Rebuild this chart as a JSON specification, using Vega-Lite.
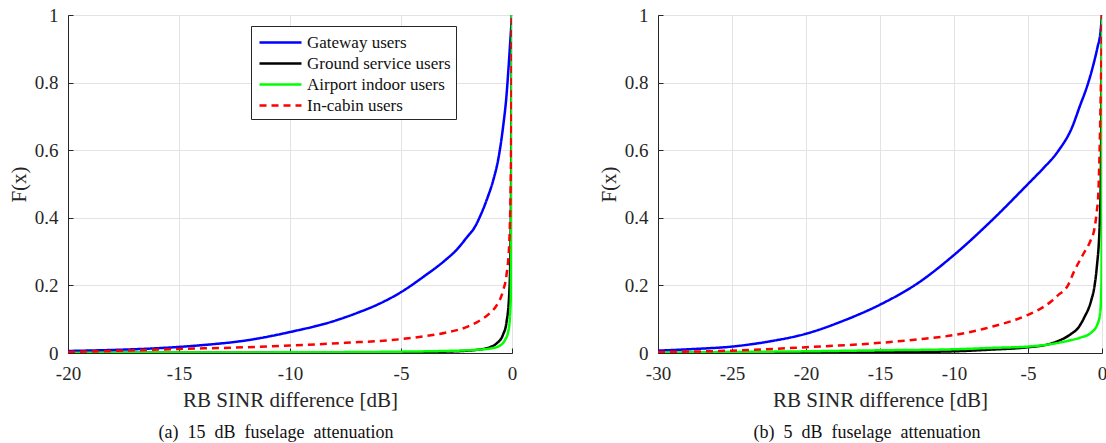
{
  "$schema": "https://vega.github.io/schema/vega-lite/v6.json",
  "background": "white",
  "padding": {"left": 7, "top": 5, "right": 0, "bottom": 0},
  "spacing": 79,
  "config": {
    "font": "'Liberation Serif', serif",
    "view": {"stroke": "#262626", "strokeWidth": 1},
    "axis": {
      "labelFont": "'Liberation Serif', serif", "titleFont": "'Liberation Serif', serif",
      "labelFontSize": 19, "titleFontSize": 21, "titleFontWeight": "normal",
      "labelColor": "#262626", "titleColor": "#262626",
      "domainColor": "#262626", "tickColor": "#262626",
      "gridColor": "#e3e3e3", "gridWidth": 1, "grid": true,
      "labelFlush": false, "labelOverlap": false, "tickSize": -5
    },
    "title": {"font": "'Liberation Serif', serif", "fontSize": 18, "fontWeight": "normal", "color": "#111111"},
    "legend": {
      "labelFont": "'Liberation Serif', serif", "labelFontSize": 17, "labelColor": "#111111"
    }
  },
  "datasets": {
    "a": [
      {"s": "Gateway users", "x": -20, "F": 0.006},
      {"s": "Gateway users", "x": -18, "F": 0.009},
      {"s": "Gateway users", "x": -16, "F": 0.014},
      {"s": "Gateway users", "x": -15, "F": 0.018},
      {"s": "Gateway users", "x": -14, "F": 0.023},
      {"s": "Gateway users", "x": -12, "F": 0.037},
      {"s": "Gateway users", "x": -10, "F": 0.062},
      {"s": "Gateway users", "x": -8, "F": 0.095},
      {"s": "Gateway users", "x": -7, "F": 0.118},
      {"s": "Gateway users", "x": -6, "F": 0.145},
      {"s": "Gateway users", "x": -5, "F": 0.18},
      {"s": "Gateway users", "x": -4, "F": 0.225},
      {"s": "Gateway users", "x": -3, "F": 0.275},
      {"s": "Gateway users", "x": -2.5, "F": 0.305},
      {"s": "Gateway users", "x": -2, "F": 0.345},
      {"s": "Gateway users", "x": -1.7, "F": 0.37},
      {"s": "Gateway users", "x": -1.4, "F": 0.41},
      {"s": "Gateway users", "x": -1.1, "F": 0.46},
      {"s": "Gateway users", "x": -0.85, "F": 0.51},
      {"s": "Gateway users", "x": -0.6, "F": 0.58},
      {"s": "Gateway users", "x": -0.4, "F": 0.67},
      {"s": "Gateway users", "x": -0.25, "F": 0.76},
      {"s": "Gateway users", "x": -0.15, "F": 0.85},
      {"s": "Gateway users", "x": -0.08, "F": 0.92},
      {"s": "Gateway users", "x": -0.03, "F": 0.97},
      {"s": "Gateway users", "x": 0, "F": 1},
      {"s": "Ground service users", "x": -20, "F": 0.0005},
      {"s": "Ground service users", "x": -10, "F": 0.001},
      {"s": "Ground service users", "x": -5, "F": 0.002},
      {"s": "Ground service users", "x": -3, "F": 0.004},
      {"s": "Ground service users", "x": -2, "F": 0.007},
      {"s": "Ground service users", "x": -1.5, "F": 0.01},
      {"s": "Ground service users", "x": -1, "F": 0.017},
      {"s": "Ground service users", "x": -0.7, "F": 0.028},
      {"s": "Ground service users", "x": -0.4, "F": 0.055},
      {"s": "Ground service users", "x": -0.25, "F": 0.09},
      {"s": "Ground service users", "x": -0.12, "F": 0.18},
      {"s": "Ground service users", "x": -0.06, "F": 0.35},
      {"s": "Ground service users", "x": -0.03, "F": 0.6},
      {"s": "Ground service users", "x": -0.01, "F": 0.9},
      {"s": "Ground service users", "x": 0, "F": 1},
      {"s": "Airport indoor users", "x": -20, "F": 0.001},
      {"s": "Airport indoor users", "x": -10, "F": 0.002},
      {"s": "Airport indoor users", "x": -5, "F": 0.004},
      {"s": "Airport indoor users", "x": -3, "F": 0.006},
      {"s": "Airport indoor users", "x": -2, "F": 0.008},
      {"s": "Airport indoor users", "x": -1.5, "F": 0.01},
      {"s": "Airport indoor users", "x": -1, "F": 0.013},
      {"s": "Airport indoor users", "x": -0.6, "F": 0.02},
      {"s": "Airport indoor users", "x": -0.3, "F": 0.04},
      {"s": "Airport indoor users", "x": -0.15, "F": 0.07},
      {"s": "Airport indoor users", "x": -0.06, "F": 0.15},
      {"s": "Airport indoor users", "x": -0.03, "F": 0.4},
      {"s": "Airport indoor users", "x": -0.01, "F": 0.8},
      {"s": "Airport indoor users", "x": 0, "F": 1},
      {"s": "In-cabin users", "x": -20, "F": 0.003},
      {"s": "In-cabin users", "x": -17.5, "F": 0.007},
      {"s": "In-cabin users", "x": -15, "F": 0.012},
      {"s": "In-cabin users", "x": -12.5, "F": 0.016},
      {"s": "In-cabin users", "x": -10, "F": 0.022},
      {"s": "In-cabin users", "x": -7.5, "F": 0.03},
      {"s": "In-cabin users", "x": -5, "F": 0.041},
      {"s": "In-cabin users", "x": -4, "F": 0.049},
      {"s": "In-cabin users", "x": -3, "F": 0.06},
      {"s": "In-cabin users", "x": -2, "F": 0.078},
      {"s": "In-cabin users", "x": -1.5, "F": 0.094},
      {"s": "In-cabin users", "x": -1, "F": 0.118},
      {"s": "In-cabin users", "x": -0.7, "F": 0.14},
      {"s": "In-cabin users", "x": -0.4, "F": 0.185},
      {"s": "In-cabin users", "x": -0.25, "F": 0.23},
      {"s": "In-cabin users", "x": -0.12, "F": 0.33},
      {"s": "In-cabin users", "x": -0.06, "F": 0.5},
      {"s": "In-cabin users", "x": -0.03, "F": 0.7},
      {"s": "In-cabin users", "x": -0.01, "F": 0.9},
      {"s": "In-cabin users", "x": 0, "F": 1}
    ],
    "b": [
      {"s": "Gateway users", "x": -30, "F": 0.007},
      {"s": "Gateway users", "x": -27.5, "F": 0.012},
      {"s": "Gateway users", "x": -25, "F": 0.019},
      {"s": "Gateway users", "x": -22.5, "F": 0.034},
      {"s": "Gateway users", "x": -20, "F": 0.057},
      {"s": "Gateway users", "x": -17.5, "F": 0.095},
      {"s": "Gateway users", "x": -15, "F": 0.143},
      {"s": "Gateway users", "x": -12.5, "F": 0.205},
      {"s": "Gateway users", "x": -10, "F": 0.29},
      {"s": "Gateway users", "x": -7.5, "F": 0.39},
      {"s": "Gateway users", "x": -5, "F": 0.50},
      {"s": "Gateway users", "x": -4, "F": 0.545},
      {"s": "Gateway users", "x": -3, "F": 0.595},
      {"s": "Gateway users", "x": -2, "F": 0.67},
      {"s": "Gateway users", "x": -1.5, "F": 0.73},
      {"s": "Gateway users", "x": -1, "F": 0.79},
      {"s": "Gateway users", "x": -0.6, "F": 0.85},
      {"s": "Gateway users", "x": -0.3, "F": 0.905},
      {"s": "Gateway users", "x": -0.1, "F": 0.95},
      {"s": "Gateway users", "x": 0, "F": 1},
      {"s": "Ground service users", "x": -30, "F": 0.0003},
      {"s": "Ground service users", "x": -20, "F": 0.001},
      {"s": "Ground service users", "x": -15, "F": 0.002},
      {"s": "Ground service users", "x": -10, "F": 0.005},
      {"s": "Ground service users", "x": -7.5, "F": 0.01},
      {"s": "Ground service users", "x": -5, "F": 0.017},
      {"s": "Ground service users", "x": -3.7, "F": 0.025},
      {"s": "Ground service users", "x": -3, "F": 0.035},
      {"s": "Ground service users", "x": -2.1, "F": 0.056},
      {"s": "Ground service users", "x": -1.6, "F": 0.075},
      {"s": "Ground service users", "x": -1.2, "F": 0.105},
      {"s": "Ground service users", "x": -0.74, "F": 0.154},
      {"s": "Ground service users", "x": -0.5, "F": 0.2},
      {"s": "Ground service users", "x": -0.36, "F": 0.25},
      {"s": "Ground service users", "x": -0.14, "F": 0.4},
      {"s": "Ground service users", "x": -0.06, "F": 0.6},
      {"s": "Ground service users", "x": -0.02, "F": 0.85},
      {"s": "Ground service users", "x": 0, "F": 1},
      {"s": "Airport indoor users", "x": -30, "F": 0.001},
      {"s": "Airport indoor users", "x": -25, "F": 0.003},
      {"s": "Airport indoor users", "x": -20, "F": 0.005},
      {"s": "Airport indoor users", "x": -15, "F": 0.008},
      {"s": "Airport indoor users", "x": -10, "F": 0.011},
      {"s": "Airport indoor users", "x": -7.5, "F": 0.015},
      {"s": "Airport indoor users", "x": -5, "F": 0.019},
      {"s": "Airport indoor users", "x": -3.5, "F": 0.026},
      {"s": "Airport indoor users", "x": -2.3, "F": 0.036},
      {"s": "Airport indoor users", "x": -1.5, "F": 0.045},
      {"s": "Airport indoor users", "x": -0.74, "F": 0.06},
      {"s": "Airport indoor users", "x": -0.3, "F": 0.086},
      {"s": "Airport indoor users", "x": -0.12, "F": 0.12},
      {"s": "Airport indoor users", "x": -0.04, "F": 0.2},
      {"s": "Airport indoor users", "x": -0.01, "F": 0.5},
      {"s": "Airport indoor users", "x": 0, "F": 1},
      {"s": "In-cabin users", "x": -30, "F": 0.003},
      {"s": "In-cabin users", "x": -25, "F": 0.007},
      {"s": "In-cabin users", "x": -20, "F": 0.017},
      {"s": "In-cabin users", "x": -15, "F": 0.03},
      {"s": "In-cabin users", "x": -12.5, "F": 0.04},
      {"s": "In-cabin users", "x": -10, "F": 0.053},
      {"s": "In-cabin users", "x": -7.5, "F": 0.077},
      {"s": "In-cabin users", "x": -5, "F": 0.113},
      {"s": "In-cabin users", "x": -4, "F": 0.135},
      {"s": "In-cabin users", "x": -3.4, "F": 0.154},
      {"s": "In-cabin users", "x": -3, "F": 0.17},
      {"s": "In-cabin users", "x": -2.3, "F": 0.2},
      {"s": "In-cabin users", "x": -1.9, "F": 0.24},
      {"s": "In-cabin users", "x": -1.3, "F": 0.29},
      {"s": "In-cabin users", "x": -0.8, "F": 0.33},
      {"s": "In-cabin users", "x": -0.5, "F": 0.37},
      {"s": "In-cabin users", "x": -0.35, "F": 0.42},
      {"s": "In-cabin users", "x": -0.25, "F": 0.47},
      {"s": "In-cabin users", "x": -0.16, "F": 0.6},
      {"s": "In-cabin users", "x": -0.08, "F": 0.78},
      {"s": "In-cabin users", "x": -0.03, "F": 0.9},
      {"s": "In-cabin users", "x": 0, "F": 1}
    ]
  },
  "resolve": {"scale": {"color": "independent", "strokeDash": "independent", "x": "independent"}, "legend": {"color": "independent", "strokeDash": "independent"}},
  "hconcat": [
    {
      "width": 444,
      "height": 338,
      "data": {"name": "a"},
      "title": {"text": "(a)\u00a0 15\u00a0 dB\u00a0 fuselage\u00a0 attenuation", "orient": "bottom", "anchor": "middle", "frame": "group", "dx": -14, "offset": 14},
      "mark": {"type": "line", "strokeWidth": 2.5, "clip": true, "interpolate": "monotone"},
      "encoding": {
        "x": {"field": "x", "type": "quantitative", "scale": {"domain": [-20, 0], "nice": false},
              "axis": {"title": "RB SINR difference [dB]", "values": [-20, -15, -10, -5, 0], "labelExpr": "'' + datum.value", "labelPadding": 16, "titlePadding": 6}},
        "y": {"field": "F", "type": "quantitative", "scale": {"domain": [0, 1], "nice": false},
              "axis": {"title": "F(x)", "values": [0, 0.2, 0.4, 0.6, 0.8, 1], "labelExpr": "'' + datum.value", "labelPadding": 15, "titlePadding": 5}},
        "color": {"field": "s", "type": "nominal",
                  "scale": {"domain": ["Gateway users", "Ground service users", "Airport indoor users", "In-cabin users"], "range": ["#0000ff", "#000000", "#00ff00", "#ff0000"]},
                  "legend": {"title": null, "orient": "none", "legendX": 183, "legendY": 11, "strokeColor": "#262626", "fillColor": "white", "padding": 5, "symbolType": "M-2.1,0H2.1", "symbolSize": 400, "symbolStrokeWidth": 2.5, "symbolOffset": 13, "rowPadding": 1, "labelOffset": 15}},
        "strokeDash": {"field": "s", "type": "nominal",
                  "scale": {"domain": ["Gateway users", "Ground service users", "Airport indoor users", "In-cabin users"], "range": [[1, 0], [1, 0], [1, 0], [7, 5]]},
                  "legend": null}
      }
    },
    {
      "width": 444,
      "height": 338,
      "data": {"name": "b"},
      "title": {"text": "(b)\u00a0 5\u00a0 dB\u00a0 fuselage\u00a0 attenuation", "orient": "bottom", "anchor": "middle", "frame": "group", "dx": -13, "offset": 14},
      "mark": {"type": "line", "strokeWidth": 2.5, "clip": true, "interpolate": "monotone"},
      "encoding": {
        "x": {"field": "x", "type": "quantitative", "scale": {"domain": [-30, 0], "nice": false},
              "axis": {"title": "RB SINR difference [dB]", "values": [-30, -25, -20, -15, -10, -5, 0], "labelExpr": "'' + datum.value", "labelPadding": 16, "titlePadding": 6}},
        "y": {"field": "F", "type": "quantitative", "scale": {"domain": [0, 1], "nice": false},
              "axis": {"title": "F(x)", "values": [0, 0.2, 0.4, 0.6, 0.8, 1], "labelExpr": "'' + datum.value", "labelPadding": 15, "titlePadding": 5}},
        "color": {"field": "s", "type": "nominal",
                  "scale": {"domain": ["Gateway users", "Ground service users", "Airport indoor users", "In-cabin users"], "range": ["#0000ff", "#000000", "#00ff00", "#ff0000"]},
                  "legend": null},
        "strokeDash": {"field": "s", "type": "nominal",
                  "scale": {"domain": ["Gateway users", "Ground service users", "Airport indoor users", "In-cabin users"], "range": [[1, 0], [1, 0], [1, 0], [7, 5]]},
                  "legend": null}
      }
    }
  ]
}
